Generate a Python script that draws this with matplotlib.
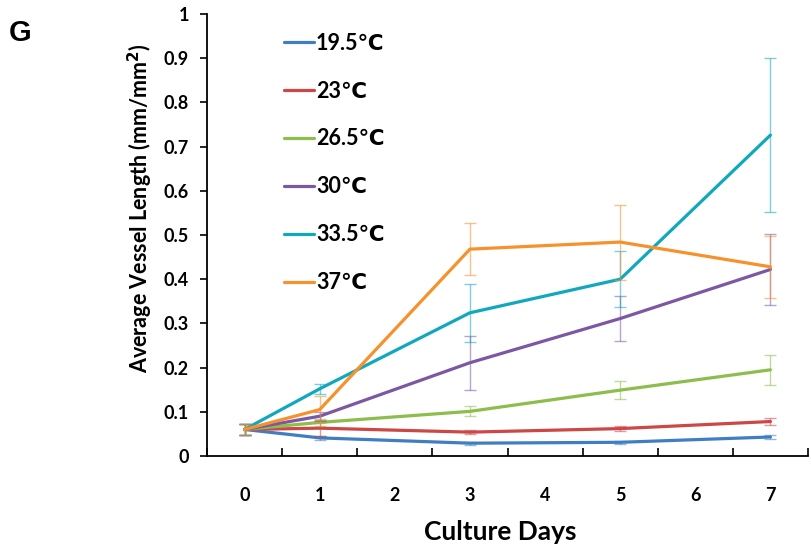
import matplotlib
matplotlib.use("Agg")
import matplotlib.pyplot as plt
import numpy as np

plt.rcParams['font.family'] = ['Lato', 'DejaVu Sans']
plt.rcParams['font.weight'] = 'bold'
plt.rcParams['axes.labelweight'] = 'bold'

# data
days = [0, 1, 3, 5, 7]
labels = ['19.5\u2103', '23\u2103', '26.5\u2103', '30\u2103', '33.5\u2103', '37\u2103']
colors = ['#3F7EC2', '#CC4745', '#8DBD4C', '#7C58A4', '#10A8BD', '#F7912C']

t195 = [0.060, 0.041, 0.029, 0.031, 0.043]
t23 = [0.060, 0.063, 0.054, 0.062, 0.078]
t265 = [0.060, 0.076, 0.101, 0.149, 0.195]
t30 = [0.060, 0.090, 0.211, 0.311, 0.422]
t335 = [0.060, 0.152, 0.324, 0.400, 0.726]
t37 = [0.060, 0.105, 0.468, 0.484, 0.428]

e195 = [0.012, 0.004, 0.003, 0.004, 0.005]
e23 = [0.012, 0.018, 0.004, 0.005, 0.008]
e265 = [0.012, 0.008, 0.011, 0.020, 0.034]
e30 = [0.012, 0.010, 0.061, 0.050, 0.080]
e335 = [0.012, 0.012, 0.066, 0.063, 0.175]
e37 = [0.012, 0.030, 0.059, 0.085, 0.070]

series = [t195, t23, t265, t30, t335, t37]
errors = [e195, e23, e265, e30, e335, e37]

fig = plt.figure(figsize=(8.11, 5.54), dpi=100)
ax = fig.add_axes([207 / 811, 1 - 456 / 554, (808 - 207) / 811, (456 - 14) / 554])

handles = []
for y, e, c, lab in zip(series, errors, colors, labels):
    ax.errorbar(days, y, yerr=e, fmt='none', ecolor=c, alpha=0.55,
                elinewidth=1.0, capsize=4, capthick=1.0)
    h, = ax.plot(days, y, color=c, lw=2.3, label=lab, solid_capstyle='round')
    handles.append(h)

ax.set_xlim(-0.5, 7.5)
ax.set_ylim(0, 1)
ax.set_xticks(range(8))
ax.set_xticks(np.arange(-0.5, 8, 1), minor=True)
ax.tick_params(axis='x', which='major', length=0, pad=22, labelsize=13)
ax.tick_params(axis='x', which='minor', direction='in', length=6, width=1.2)
ax.set_yticks(np.arange(0, 1.01, 0.1))
ax.set_yticklabels(['0'] + ['%.1f' % v for v in np.arange(0.1, 1.0, 0.1)] + ['1'])
ax.tick_params(axis='y', direction='out', length=5, width=1.2, pad=8, labelsize=13)

for s in ['top', 'right']:
    ax.spines[s].set_visible(False)
for s in ['left', 'bottom']:
    ax.spines[s].set_linewidth(1.3)

ax.set_xlabel('Culture Days', fontsize=19)
ax.xaxis.set_label_coords(0.4875, -0.145)
fig.text(140 / 811, 1 - 208 / 554, 'Average Vessel Length (mm/mm$^\\mathbf{2}$)',
         rotation=90, ha='center', va='center', fontsize=15.5, fontweight='bold')
fig.text(9 / 811, 1 - 33 / 554, 'G', family='Liberation Sans', fontsize=21,
         fontweight='bold', va='center', ha='left')

ax.legend(handles=handles, loc='upper left', bbox_to_anchor=(275 / 811, 1 - 24 / 554),
          bbox_transform=fig.transFigure, frameon=False, fontsize=15.5,
          handlelength=1.4, handletextpad=0.1, labelspacing=1.25, borderaxespad=0)

fig.savefig('out.png', dpi=100)
